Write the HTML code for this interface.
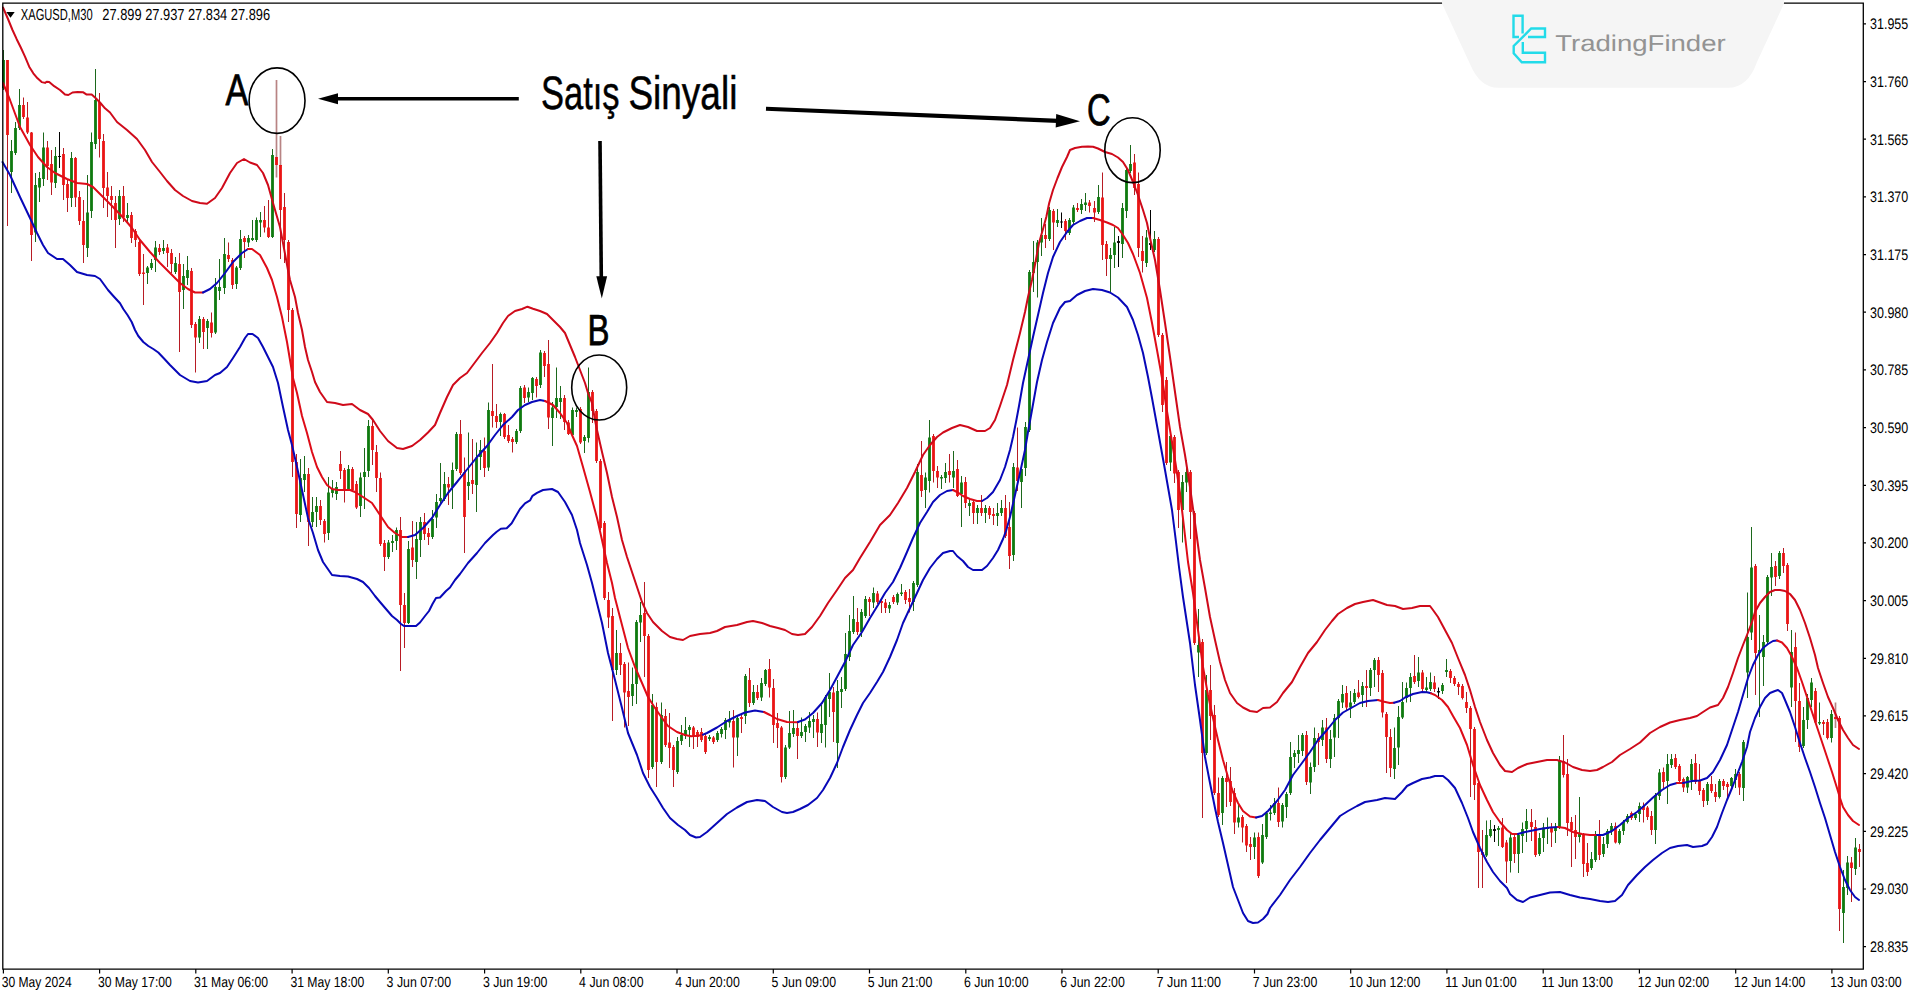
<!DOCTYPE html>
<html lang="tr"><head><meta charset="utf-8"><title>XAGUSD M30 - Satış Sinyali</title>
<style>html,body{margin:0;padding:0;background:#fff;overflow:hidden}svg{display:block}text{font-family:"Liberation Sans",sans-serif;text-rendering:geometricPrecision}.ax{font-size:15.3px;fill:#000}.w{stroke-width:1;fill:none}.cv{fill:none;stroke-width:2;stroke-linejoin:round;stroke-linecap:round}</style></head><body>
<svg width="1920" height="997" viewBox="0 0 1920 997">
<rect width="1920" height="997" fill="#fff"/>
<path class="w" stroke="#b81c24" d="M7.5,60V226M23.5,97.5V119M27.5,102V134M31.5,132V261M47.5,141V180M51.5,150V195M63.5,148V200M67.5,180V212M75.5,157V207M79.5,191V225M83.5,200V263M99.5,93V157.5M103.5,134V208M107.5,172V217M111.5,186V220M115.5,196V248M123.5,186V222M131.5,212V243M135.5,229V247M139.5,240V276M143.5,254V305M159.5,244V255M167.5,244V267M171.5,249V273M179.5,253V352M191.5,268V328M195.5,322V372.5M203.5,317V349M211.5,312.5V337.5M228.5,242.5V262M232.5,258V289M244.5,236V258M264.5,206V232.5M268.5,200V238M280.5,165V259M284.5,193V263M288.5,240V322M292.5,308V477M296.5,454V528M308.5,468V546M320.5,500V525M324.5,519V542.5M340.5,451V479M344.5,468V502.5M352.5,467V492M356.5,481V509M372.5,420V465M376.5,445V492M380.5,472.5V546M384.5,540V571M400.5,517V671M404.5,593V648M412.5,521V567M424.5,513V540M428.5,528V545M448.5,477V505M460.5,420V475M464.5,457.5V553M472.5,439V494M484.5,437.5V477M492.5,364V427.5M496.5,404V428M504.5,413V439M508.5,425V443M512.5,437V452.5M524.5,385V403M536.5,377V397.5M544.5,351V377M548.5,340V429M564.5,395V430M568.5,420V435M580.5,407V444M592.5,390V423M596.5,409V463M600.5,459V530M604.5,521V600M608.5,592V628M612.5,608V721M620.5,643V675M624.5,662V727.5M628.5,662.5V726M644.5,582V677M648.5,634V778M656.5,702.5V787M665.5,709V747M669.5,713V768M673.5,745V787M693.5,726V749M697.5,730V747M701.5,728V742M705.5,734V754M713.5,736V744M733.5,710V767.5M741.5,715V733M749.5,668V707M757.5,685V700M769.5,659V697.5M773.5,679V743M777.5,713V748M781.5,726V782.5M797.5,723V759M817.5,712.5V747M833.5,687V742M857.5,608V635M869.5,597V616M877.5,591V604M881.5,599V613M885.5,599V613M893.5,595V604M905.5,590V604M909.5,589V612.5M921.5,441V497M933.5,434V482.5M937.5,466V488M949.5,454V482.5M957.5,460V497M965.5,477V508M973.5,500V524M981.5,495V516M989.5,506V519M993.5,508V525M1005.5,495V538M1009.5,502V569M1017.5,427.5V491M1045.5,224V248M1053.5,209V250M1065.5,219V240M1077.5,203V212M1089.5,200V212.5M1094.5,201V222M1102.5,172.5V260M1106.5,241V276M1134.5,154V195M1138.5,172.5V257M1142.5,236V272.5M1158.5,237V337M1162.5,333V412M1166.5,377V465M1174.5,435V483M1178.5,470V528M1190.5,470V539M1194.5,511V645M1202.5,639V818M1210.5,665V740M1214.5,705V795M1218.5,777.5V817M1226.5,762V807M1230.5,767V806M1234.5,788V834M1242.5,815V842.5M1246.5,824V852M1250.5,837V860M1258.5,832.5V878M1278.5,787.5V827M1306.5,731V785M1318.5,733V765M1326.5,718V763M1346.5,686V711M1358.5,680V698.5M1366.5,670V707M1378.5,657V692M1382.5,670V717.5M1386.5,712V773M1390.5,729V777M1414.5,655V684M1422.5,670V692M1434.5,676V692M1450.5,669V683M1454.5,676V686M1458.5,682V695M1462.5,684V699.5M1466.5,692V713M1470.5,706V797M1474.5,727V800M1478.5,781V888M1482.5,830V888M1502.5,818V848M1506.5,840V883M1514.5,835V863M1531.5,809V841M1535.5,820V857M1551.5,823V847M1563.5,735V777.5M1567.5,759V836M1571.5,817V867M1575.5,815V859M1583.5,833V877M1587.5,843V876M1599.5,820V860M1615.5,822.5V843.5M1631.5,811.5V820M1643.5,802.5V822.5M1647.5,806V820M1651.5,811V835M1663.5,767.5V788M1675.5,754V769M1679.5,764V782.5M1683.5,777.5V792M1695.5,754V784M1699.5,764V795M1703.5,788V807M1711.5,776V793M1715.5,784V802M1723.5,779V790M1727.5,782V797M1739.5,772V795M1755.5,564V695M1775.5,561V586M1783.5,548V573M1787.5,563V631M1795.5,632.5V742M1799.5,683V752M1815.5,688V723.5M1823.5,720V735M1827.5,719V739.5M1839.5,716V931M1851.5,857V902M1859.5,844V867"/>
<path fill="#ea1414" d="M6.1,60h2.8v75h-2.8zM22.1,105h2.8v12h-2.8zM26.1,117.5h2.8v15h-2.8zM30.1,132.5h2.8v102.5h-2.8zM46.1,147.5h2.8v18.5h-2.8zM50.1,164h2.8v18.5h-2.8zM62.1,154h2.8v31h-2.8zM66.1,184h2.8v14h-2.8zM74.1,158h2.8v39.5h-2.8zM78.1,197h2.8v24h-2.8zM82.1,221h2.8v24h-2.8zM98.1,102h2.8v37h-2.8zM102.1,141h2.8v47h-2.8zM106.1,187.5h2.8v8.5h-2.8zM110.1,196h2.8v4h-2.8zM114.1,203h2.8v17h-2.8zM122.1,196h2.8v21.5h-2.8zM130.1,215h2.8v23h-2.8zM134.1,231h2.8v9h-2.8zM138.1,242h2.8v32h-2.8zM142.1,272.5h2.8v1.5h-2.8zM158.1,248h2.8v4h-2.8zM166.1,247.5h2.8v5.5h-2.8zM170.1,253h2.8v11h-2.8zM178.1,264h2.8v28h-2.8zM190.1,271h2.8v54h-2.8zM194.1,324h2.8v13.5h-2.8zM202.1,319h2.8v13h-2.8zM210.1,322.5h2.8v10.5h-2.8zM227.1,255h2.8v4h-2.8zM231.1,260h2.8v25h-2.8zM243.1,238h2.8v4h-2.8zM263.1,220h2.8v7.5h-2.8zM267.1,227.5h2.8v9.5h-2.8zM279.1,165h2.8v45h-2.8zM283.1,207h2.8v33h-2.8zM287.1,242h2.8v68h-2.8zM291.1,310h2.8v152h-2.8zM295.1,462h2.8v52h-2.8zM307.1,474h2.8v48h-2.8zM319.1,506h2.8v14h-2.8zM323.1,521h2.8v13h-2.8zM339.1,464h2.8v7h-2.8zM343.1,470h2.8v20h-2.8zM351.1,469h2.8v21h-2.8zM355.1,484h2.8v23.5h-2.8zM371.1,426h2.8v24h-2.8zM375.1,452h2.8v26h-2.8zM379.1,478h2.8v66h-2.8zM383.1,543h2.8v14h-2.8zM399.1,530h2.8v75h-2.8zM403.1,605h2.8v18h-2.8zM411.1,547.5h2.8v12.5h-2.8zM423.1,522h2.8v12h-2.8zM427.1,533h2.8v4h-2.8zM447.1,484h2.8v3.5h-2.8zM459.1,434h2.8v39h-2.8zM463.1,472h2.8v45h-2.8zM471.1,480h2.8v4h-2.8zM483.1,451h2.8v17h-2.8zM491.1,411h2.8v5h-2.8zM495.1,416h2.8v6h-2.8zM503.1,414h2.8v23h-2.8zM507.1,435h2.8v6h-2.8zM511.1,439h2.8v3h-2.8zM523.1,387.5h2.8v10.5h-2.8zM535.1,379h2.8v7h-2.8zM543.1,353h2.8v13h-2.8zM547.1,364h2.8v53.5h-2.8zM563.1,398h2.8v24h-2.8zM567.1,422.5h2.8v11.5h-2.8zM579.1,409h2.8v33.5h-2.8zM591.1,392h2.8v19h-2.8zM595.1,411h2.8v50h-2.8zM599.1,461h2.8v67h-2.8zM603.1,523h2.8v75h-2.8zM607.1,600h2.8v17.5h-2.8zM611.1,616h2.8v54h-2.8zM619.1,653h2.8v12h-2.8zM623.1,664h2.8v28.5h-2.8zM627.1,691h2.8v6h-2.8zM643.1,613h2.8v23h-2.8zM647.1,636h2.8v134h-2.8zM655.1,707h2.8v55h-2.8zM664.1,716h2.8v29h-2.8zM668.1,742.5h2.8v5.5h-2.8zM672.1,747h2.8v23h-2.8zM692.1,727.5h2.8v9.5h-2.8zM696.1,732h2.8v5h-2.8zM700.1,732h2.8v8h-2.8zM704.1,736h2.8v16h-2.8zM712.1,737.5h2.8v4.5h-2.8zM732.1,721h2.8v16.5h-2.8zM740.1,717h2.8v2h-2.8zM748.1,680h2.8v23h-2.8zM756.1,692h2.8v6h-2.8zM768.1,669h2.8v18.5h-2.8zM772.1,688h2.8v37h-2.8zM776.1,723h2.8v5h-2.8zM780.1,727.5h2.8v49.5h-2.8zM796.1,728h2.8v8h-2.8zM816.1,719h2.8v13.5h-2.8zM832.1,692.5h2.8v19.5h-2.8zM856.1,622h2.8v10h-2.8zM868.1,599h2.8v3h-2.8zM876.1,593.5h2.8v8.5h-2.8zM880.1,601h2.8v2h-2.8zM884.1,602.5h2.8v5.5h-2.8zM892.1,597h2.8v5h-2.8zM904.1,592h2.8v8h-2.8zM908.1,598h2.8v4h-2.8zM920.1,475h2.8v16h-2.8zM932.1,436h2.8v35h-2.8zM936.1,471h2.8v6.5h-2.8zM948.1,471h2.8v4h-2.8zM956.1,469h2.8v27h-2.8zM964.1,482h2.8v21h-2.8zM972.1,502h2.8v11h-2.8zM980.1,508h2.8v5h-2.8zM988.1,508h2.8v7h-2.8zM992.1,514h2.8v2h-2.8zM1004.1,508h2.8v28h-2.8zM1008.1,527h2.8v29h-2.8zM1016.1,467.5h2.8v13.5h-2.8zM1044.1,235h2.8v4h-2.8zM1052.1,211h2.8v11.5h-2.8zM1064.1,221h2.8v10h-2.8zM1076.1,208h2.8v2h-2.8zM1088.1,202.5h2.8v3.5h-2.8zM1093.1,208h2.8v4.5h-2.8zM1101.1,197.5h2.8v47.5h-2.8zM1105.1,244h2.8v15h-2.8zM1133.1,162.5h2.8v25.5h-2.8zM1137.1,184h2.8v64h-2.8zM1141.1,251h2.8v10h-2.8zM1157.1,239h2.8v96h-2.8zM1161.1,335h2.8v70h-2.8zM1165.1,380h2.8v83h-2.8zM1173.1,437h2.8v36.5h-2.8zM1177.1,472h2.8v38h-2.8zM1189.1,472h2.8v40h-2.8zM1193.1,513h2.8v130h-2.8zM1201.1,642h2.8v111h-2.8zM1209.1,690h2.8v26h-2.8zM1213.1,715h2.8v78h-2.8zM1217.1,793h2.8v22h-2.8zM1225.1,778h2.8v4h-2.8zM1229.1,781h2.8v21h-2.8zM1233.1,793h2.8v29.5h-2.8zM1241.1,817h2.8v10.5h-2.8zM1245.1,826h2.8v19.5h-2.8zM1249.1,844h2.8v3h-2.8zM1257.1,837h2.8v39h-2.8zM1277.1,803h2.8v19h-2.8zM1305.1,735h2.8v47h-2.8zM1317.1,738h2.8v4h-2.8zM1325.1,727.5h2.8v31.5h-2.8zM1345.1,693h2.8v14.5h-2.8zM1357.1,692.5h2.8v4.5h-2.8zM1365.1,686h2.8v2h-2.8zM1377.1,660h2.8v15h-2.8zM1381.1,673h2.8v39.5h-2.8zM1385.1,714h2.8v23h-2.8zM1389.1,737h2.8v31h-2.8zM1413.1,676h2.8v6h-2.8zM1421.1,672.5h2.8v16.5h-2.8zM1433.1,682.5h2.8v6.5h-2.8zM1449.1,671h2.8v7h-2.8zM1453.1,678h2.8v6h-2.8zM1457.1,684h2.8v3h-2.8zM1461.1,686h2.8v12h-2.8zM1465.1,702h2.8v6h-2.8zM1469.1,708h2.8v21h-2.8zM1473.1,729h2.8v56h-2.8zM1477.1,783h2.8v69h-2.8zM1481.1,852h2.8v3h-2.8zM1501.1,827.5h2.8v19.5h-2.8zM1505.1,842.5h2.8v19h-2.8zM1513.1,837h2.8v17h-2.8zM1530.1,822h2.8v5h-2.8zM1534.1,827h2.8v28h-2.8zM1550.1,827h2.8v5.5h-2.8zM1562.1,761h2.8v14h-2.8zM1566.1,774h2.8v49h-2.8zM1570.1,822h2.8v8h-2.8zM1574.1,830h2.8v7h-2.8zM1582.1,835h2.8v29h-2.8zM1586.1,863h2.8v9h-2.8zM1598.1,835h2.8v20h-2.8zM1614.1,826h2.8v16.5h-2.8zM1630.1,813h2.8v5h-2.8zM1642.1,806h2.8v4h-2.8zM1646.1,807.5h2.8v9.5h-2.8zM1650.1,816h2.8v14h-2.8zM1662.1,772h2.8v10h-2.8zM1674.1,758h2.8v9h-2.8zM1678.1,766h2.8v15h-2.8zM1682.1,779h2.8v8.5h-2.8zM1694.1,763h2.8v19h-2.8zM1698.1,780h2.8v11h-2.8zM1702.1,790h2.8v11h-2.8zM1710.1,784h2.8v7h-2.8zM1714.1,792h2.8v5h-2.8zM1722.1,781h2.8v5h-2.8zM1726.1,784h2.8v3h-2.8zM1738.1,774h2.8v13.5h-2.8zM1754.1,566h2.8v87h-2.8zM1774.1,566h2.8v11h-2.8zM1782.1,553h2.8v13h-2.8zM1786.1,565h2.8v59h-2.8zM1794.1,647h2.8v54h-2.8zM1798.1,701h2.8v46h-2.8zM1814.1,691h2.8v31.5h-2.8zM1822.1,722h2.8v2h-2.8zM1826.1,722h2.8v16h-2.8zM1838.1,718h2.8v191h-2.8zM1850.1,862.5h2.8v5.5h-2.8zM1858.1,849h2.8v3h-2.8z"/>
<path class="w" stroke="#1c681c" d="M3.5,50V90M11.5,140V193M15.5,122V155M19.5,89V130M35.5,173V242M39.5,172V202M43.5,132.5V186M55.5,147V188M71.5,152V207M87.5,175V257M91.5,132.5V218M95.5,69V149M119.5,190V225M127.5,203V222M147.5,266V284M151.5,259V270M155.5,241V272M163.5,240V254M175.5,257V274M183.5,264V309M187.5,256V285M199.5,316V343M207.5,319V349M215.5,278V334M219.5,259V300M224.5,238V294M236.5,266V289M240.5,230V270M248.5,235V247M252.5,220V241M256.5,217.5V242M260.5,212V237M272.5,149V238M300.5,459V522M304.5,456V492M312.5,497V527M316.5,497V527M328.5,477V540M332.5,480V497.5M336.5,482V500M348.5,465V491M360.5,472.5V517M364.5,448V509M368.5,420V477M388.5,540V559M392.5,535V552M396.5,527.5V550M408.5,541V624M416.5,522V579M420.5,517V557M432.5,510V539M436.5,494V528M440.5,463V503M444.5,472V501M452.5,462.5V509M456.5,432V471M468.5,432.5V500M476.5,442.5V512M480.5,440V470M488.5,402.5V471M500.5,412.5V436M516.5,429V444M520.5,386V433M528.5,387.5V402M532.5,377V400M540.5,350V388M552.5,402V446M556.5,367.5V418M560.5,386V419M572.5,407.5V437M576.5,407.5V417M584.5,435V453M588.5,367.5V442.5M616.5,630V675M632.5,667.5V706M636.5,620V704M640.5,602V642M652.5,694V769M661.5,702.5V764M677.5,737V774M681.5,725V745M685.5,717V739M689.5,725V747M709.5,735V741M717.5,731V742M721.5,727V737.5M725.5,718V739M729.5,711V727.5M737.5,716V756M745.5,674V724M753.5,685V705M761.5,678V701M765.5,669V686M785.5,745V779M789.5,711V749M793.5,710V737M801.5,717.5V738M805.5,724V742M809.5,712V733M813.5,715V738M821.5,705V743M825.5,695V747.5M829.5,673V717M837.5,680V768M841.5,677V708M845.5,633V691M849.5,615V661M853.5,596V634M861.5,609V637M865.5,596V618M873.5,587.5V608M889.5,602V613M897.5,592.5V605M901.5,584V596M913.5,581V611M917.5,464V587M925.5,472.5V508M929.5,420V492.5M941.5,475V489M945.5,463V483M953.5,451V488M961.5,476V527M969.5,499V516M977.5,505V524M985.5,505V523M997.5,503V526M1001.5,500V516M1013.5,463V561M1021.5,467V508M1025.5,422V476M1029.5,270V432M1033.5,241V292M1037.5,240V297.5M1041.5,218V256M1049.5,207V241M1057.5,209V227M1069.5,218V235M1073.5,205V224M1081.5,199V214M1085.5,193V211M1098.5,185V214M1110.5,248V292M1114.5,227V268M1122.5,203V258M1126.5,168V218M1130.5,145V173M1146.5,230V267M1154.5,231V252M1170.5,430V471M1182.5,475V542.5M1186.5,460V492M1198.5,609V677M1206.5,675V755M1222.5,776V825M1238.5,803V827.5M1254.5,832.5V859M1262.5,824V864M1266.5,811V839M1270.5,805V820.5M1274.5,798V815M1282.5,803V827.5M1286.5,792V818M1290.5,742V795M1294.5,750V768M1298.5,735V763M1302.5,733V756M1310.5,762.5V794M1314.5,727.5V772M1322.5,720V746M1330.5,730V768M1334.5,714V757M1338.5,699V738M1342.5,685V708M1350.5,691V718M1354.5,689V704M1362.5,682V707M1370.5,668V696M1374.5,658V687M1394.5,727.5V779M1398.5,706V765M1402.5,682V719M1406.5,682.5V702.5M1410.5,673V702M1418.5,657V687M1426.5,677V692.5M1430.5,672.5V691M1442.5,683V694M1446.5,659V677M1486.5,820.5V857M1490.5,820V837.5M1498.5,826V846M1510.5,832.5V872.5M1518.5,833V873M1522.5,822.5V853M1526.5,809V842M1539.5,833V856M1543.5,823V852M1547.5,817.5V844M1555.5,823V843M1559.5,756V829M1579.5,797V842.5M1591.5,852V870M1595.5,831V862M1603.5,837V857M1607.5,829V848M1611.5,823V835M1619.5,829V844.5M1623.5,820V835M1627.5,814V823.5M1635.5,812V820M1639.5,802.5V822M1655.5,793V844M1659.5,769V800M1667.5,754V804M1671.5,754V768M1687.5,776V793M1691.5,759V790M1707.5,782V805M1719.5,779V798.5M1731.5,777V787.5M1735.5,769V788M1743.5,740V801M1747.5,592.5V698M1751.5,527V640M1759.5,615V717M1763.5,635V686M1767.5,575V644M1771.5,553V596M1779.5,551V579M1791.5,630V707M1803.5,707V748M1807.5,694V729M1811.5,678V707M1819.5,702.5V725M1831.5,710V742.5M1843.5,870V943M1847.5,856V895M1855.5,838V875"/>
<path fill="#0f7a0f" d="M2.1,60h2.8v28h-2.8zM10.1,151h2.8v21h-2.8zM14.1,128h2.8v25h-2.8zM18.1,105h2.8v23h-2.8zM34.1,185h2.8v47.5h-2.8zM38.1,178h2.8v9.5h-2.8zM42.1,147.5h2.8v31.5h-2.8zM54.1,156h2.8v27h-2.8zM70.1,158h2.8v40h-2.8zM86.1,212.5h2.8v35.5h-2.8zM90.1,142h2.8v69h-2.8zM94.1,100h2.8v44h-2.8zM118.1,196h2.8v23h-2.8zM126.1,215h2.8v3h-2.8zM146.1,267.5h2.8v5.5h-2.8zM150.1,263h2.8v5h-2.8zM154.1,247.5h2.8v12.5h-2.8zM162.1,248h2.8v3h-2.8zM174.1,263h2.8v9h-2.8zM182.1,276h2.8v14h-2.8zM186.1,270h2.8v8h-2.8zM198.1,319h2.8v18.5h-2.8zM206.1,321h2.8v7h-2.8zM214.1,287h2.8v45.5h-2.8zM218.1,287h2.8v4h-2.8zM223.1,254h2.8v34h-2.8zM235.1,267.5h2.8v16.5h-2.8zM239.1,239h2.8v29h-2.8zM247.1,238h2.8v4.5h-2.8zM251.1,238h2.8v2h-2.8zM255.1,220h2.8v20h-2.8zM259.1,220h2.8v2.5h-2.8zM271.1,155h2.8v82h-2.8zM299.1,478h2.8v37h-2.8zM303.1,474h2.8v6h-2.8zM311.1,512h2.8v10h-2.8zM315.1,506h2.8v6h-2.8zM327.1,492.5h2.8v40.5h-2.8zM331.1,489h2.8v4h-2.8zM335.1,487h2.8v7h-2.8zM347.1,469h2.8v20h-2.8zM359.1,477.5h2.8v28.5h-2.8zM363.1,472h2.8v5h-2.8zM367.1,426h2.8v45h-2.8zM387.1,542.5h2.8v14.5h-2.8zM391.1,541h2.8v2h-2.8zM395.1,530h2.8v11h-2.8zM407.1,549h2.8v74h-2.8zM415.1,539h2.8v23h-2.8zM419.1,522h2.8v18h-2.8zM431.1,519h2.8v18h-2.8zM435.1,502h2.8v15.5h-2.8zM439.1,498h2.8v3h-2.8zM443.1,484h2.8v15h-2.8zM451.1,470h2.8v17h-2.8zM455.1,434h2.8v35h-2.8zM467.1,482h2.8v4h-2.8zM475.1,457.5h2.8v27.5h-2.8zM479.1,450h2.8v7h-2.8zM487.1,410h2.8v57.5h-2.8zM499.1,414h2.8v8h-2.8zM515.1,431h2.8v11h-2.8zM519.1,388h2.8v43h-2.8zM527.1,392h2.8v5.5h-2.8zM531.1,378h2.8v15h-2.8zM539.1,352.5h2.8v32.5h-2.8zM551.1,407.5h2.8v10.5h-2.8zM555.1,398h2.8v9h-2.8zM559.1,398h2.8v4h-2.8zM571.1,410h2.8v25h-2.8zM575.1,410h2.8v2h-2.8zM583.1,437h2.8v4h-2.8zM587.1,392h2.8v46h-2.8zM615.1,653h2.8v17h-2.8zM631.1,684h2.8v12h-2.8zM635.1,622h2.8v62h-2.8zM639.1,615h2.8v7.5h-2.8zM651.1,705h2.8v62h-2.8zM660.1,715h2.8v47h-2.8zM676.1,741h2.8v31h-2.8zM680.1,735h2.8v6h-2.8zM684.1,730h2.8v6h-2.8zM688.1,727h2.8v3h-2.8zM708.1,737h2.8v2h-2.8zM716.1,733h2.8v7h-2.8zM720.1,729h2.8v5h-2.8zM724.1,720h2.8v10h-2.8zM728.1,720h2.8v2.5h-2.8zM736.1,718h2.8v19.5h-2.8zM744.1,676h2.8v40h-2.8zM752.1,692h2.8v11h-2.8zM760.1,683h2.8v14.5h-2.8zM764.1,670h2.8v14h-2.8zM784.1,747.5h2.8v29.5h-2.8zM788.1,733h2.8v14.5h-2.8zM792.1,728h2.8v6h-2.8zM800.1,732h2.8v4h-2.8zM804.1,726h2.8v6h-2.8zM808.1,721h2.8v6.5h-2.8zM812.1,719h2.8v3h-2.8zM820.1,724h2.8v9h-2.8zM824.1,697h2.8v28h-2.8zM828.1,692h2.8v7h-2.8zM836.1,691h2.8v52h-2.8zM840.1,689h2.8v3h-2.8zM844.1,654h2.8v35h-2.8zM848.1,631h2.8v26h-2.8zM852.1,619h2.8v13h-2.8zM860.1,612h2.8v20h-2.8zM864.1,599h2.8v17h-2.8zM872.1,593h2.8v9.5h-2.8zM888.1,605h2.8v3.5h-2.8zM896.1,594h2.8v8.5h-2.8zM900.1,592.5h2.8v1.5h-2.8zM912.1,583h2.8v19h-2.8zM916.1,472h2.8v113h-2.8zM924.1,477.5h2.8v12.5h-2.8zM928.1,437.5h2.8v43.5h-2.8zM940.1,477h2.8v1.5h-2.8zM944.1,472h2.8v6h-2.8zM952.1,471h2.8v6.5h-2.8zM960.1,482.5h2.8v11.5h-2.8zM968.1,503h2.8v3h-2.8zM976.1,508h2.8v5h-2.8zM984.1,508h2.8v5h-2.8zM996.1,513h2.8v3h-2.8zM1000.1,508h2.8v5h-2.8zM1012.1,467h2.8v88h-2.8zM1020.1,469h2.8v13h-2.8zM1024.1,427h2.8v41h-2.8zM1028.1,272h2.8v158h-2.8zM1032.1,262h2.8v11h-2.8zM1036.1,242.5h2.8v19.5h-2.8zM1040.1,235h2.8v7.5h-2.8zM1048.1,210h2.8v29h-2.8zM1056.1,220h2.8v3h-2.8zM1068.1,220h2.8v13h-2.8zM1072.1,207.5h2.8v14.5h-2.8zM1080.1,204h2.8v6h-2.8zM1084.1,202.5h2.8v2.5h-2.8zM1097.1,197h2.8v15h-2.8zM1109.1,255h2.8v4h-2.8zM1113.1,242.5h2.8v12.5h-2.8zM1121.1,208h2.8v36h-2.8zM1125.1,170h2.8v41h-2.8zM1129.1,164h2.8v7h-2.8zM1145.1,237.5h2.8v25.5h-2.8zM1153.1,239h2.8v11h-2.8zM1169.1,436h2.8v26.5h-2.8zM1181.1,482h2.8v28h-2.8zM1185.1,472h2.8v10.5h-2.8zM1197.1,645h2.8v7.5h-2.8zM1205.1,690h2.8v63h-2.8zM1221.1,778h2.8v35h-2.8zM1237.1,817.5h2.8v5h-2.8zM1253.1,837.5h2.8v9.5h-2.8zM1261.1,835h2.8v27.5h-2.8zM1265.1,813h2.8v24h-2.8zM1269.1,812.5h2.8v1.5h-2.8zM1273.1,803h2.8v10h-2.8zM1281.1,805h2.8v16.5h-2.8zM1285.1,794h2.8v13h-2.8zM1289.1,757h2.8v36h-2.8zM1293.1,753h2.8v4h-2.8zM1297.1,750h2.8v4h-2.8zM1301.1,735h2.8v16h-2.8zM1309.1,767h2.8v15.5h-2.8zM1313.1,738h2.8v29h-2.8zM1321.1,727.5h2.8v12.5h-2.8zM1329.1,739h2.8v20h-2.8zM1333.1,718h2.8v19.5h-2.8zM1337.1,701h2.8v17h-2.8zM1341.1,694h2.8v8.5h-2.8zM1349.1,702.5h2.8v5h-2.8zM1353.1,693h2.8v9h-2.8zM1361.1,686h2.8v9h-2.8zM1369.1,670h2.8v18h-2.8zM1373.1,660h2.8v10h-2.8zM1393.1,748h2.8v21h-2.8zM1397.1,717h2.8v30.5h-2.8zM1401.1,702h2.8v15.5h-2.8zM1405.1,688h2.8v10h-2.8zM1409.1,677h2.8v11h-2.8zM1417.1,672.5h2.8v8.5h-2.8zM1425.1,687.5h2.8v2.5h-2.8zM1429.1,682h2.8v7h-2.8zM1441.1,685h2.8v6h-2.8zM1445.1,670h2.8v2h-2.8zM1485.1,835h2.8v20.5h-2.8zM1489.1,829h2.8v7h-2.8zM1497.1,828h2.8v2h-2.8zM1509.1,837.5h2.8v23.5h-2.8zM1517.1,835h2.8v19h-2.8zM1521.1,829h2.8v7h-2.8zM1525.1,821h2.8v8h-2.8zM1538.1,838h2.8v16h-2.8zM1542.1,827.5h2.8v10.5h-2.8zM1546.1,827h2.8v2h-2.8zM1554.1,827h2.8v4h-2.8zM1558.1,761h2.8v66.5h-2.8zM1578.1,834h2.8v3h-2.8zM1590.1,859h2.8v9h-2.8zM1594.1,836h2.8v24h-2.8zM1602.1,844h2.8v10h-2.8zM1606.1,831h2.8v13h-2.8zM1610.1,826h2.8v5h-2.8zM1618.1,831h2.8v12h-2.8zM1622.1,822h2.8v9h-2.8zM1626.1,816h2.8v6h-2.8zM1634.1,814h2.8v4h-2.8zM1638.1,806h2.8v8h-2.8zM1654.1,795h2.8v35h-2.8zM1658.1,772.5h2.8v23.5h-2.8zM1666.1,764h2.8v17h-2.8zM1670.1,759h2.8v6h-2.8zM1686.1,777h2.8v10.5h-2.8zM1690.1,764h2.8v16h-2.8zM1706.1,784h2.8v17h-2.8zM1718.1,781h2.8v16h-2.8zM1730.1,778h2.8v8h-2.8zM1734.1,774h2.8v6h-2.8zM1742.1,742h2.8v46h-2.8zM1746.1,637h2.8v35.5h-2.8zM1750.1,567.5h2.8v65h-2.8zM1758.1,650h2.8v3h-2.8zM1762.1,642h2.8v15h-2.8zM1766.1,577h2.8v65h-2.8zM1770.1,567h2.8v10.5h-2.8zM1778.1,553h2.8v23h-2.8zM1790.1,652h2.8v35.5h-2.8zM1802.1,720h2.8v26h-2.8zM1806.1,698h2.8v22h-2.8zM1810.1,682.5h2.8v17.5h-2.8zM1818.1,722h2.8v1.5h-2.8zM1830.1,714h2.8v24h-2.8zM1842.1,887h2.8v26h-2.8zM1846.1,862.5h2.8v25.5h-2.8zM1854.1,847.5h2.8v21.5h-2.8z"/>
<path class="w" stroke="#000" d="M59.5,132V168M1061.5,212.5V228M1118.5,236V267M1150.5,210V250M1438.5,687.5V699M1494.5,825V842"/>
<path fill="#000" d="M58.1,156h2.8v1h-2.8zM1060.1,221.5h2.8v1h-2.8zM1117.1,241h2.8v2h-2.8zM1149.1,243h2.8v2h-2.8zM1437.1,691h2.8v1.5h-2.8zM1493.1,829h2.8v2h-2.8z"/>
<path class="w" style="stroke-width:1.7" stroke="#b88484" d="M276.5,80V177.5M280.5,136V165M1835.5,702.5V728"/>
<path fill="#ea1414" d="M275.1,157h2.8v8h-2.8zM279.1,165h2.8v1h-2.8zM1834.1,717h2.8v2h-2.8z"/>
<path class="cv" stroke="#0808b8" d="M2.5,162 L10,175 L20,197 L30,218 L37,233 L43,245 L48,253 L57,259 L63,259 L70,265 L77,272 L87,275 L95,276 L100,279 L108,290 L113.3,296 L120,303.3 L123.3,309 L127.5,315 L131.7,322 L135,330 L138.3,336 L143.3,342 L148.3,346 L153.3,349 L158.3,352.5 L164,358.5 L170,365 L180,375 L190,381 L198,382.5 L207,381 L215,375 L220,373 L227,367 L233,358 L240,347 L245,338 L248,334 L252.5,334 L258,338 L263,347 L268,357 L273,367 L278,383 L283,407 L288,430 L292,445 L297,467 L302,490 L308,518 L313,533 L318,550 L323,562 L332,575 L340,576 L348,576.5 L357,579 L363,582 L369,588 L375,596 L380,602 L386,609 L392,616 L397,620 L401,624 L404,626 L416,626 L420,622.5 L425,616 L429,611 L432.5,604 L436,598 L440,597.5 L446,591 L450,587.5 L455,580 L460,574 L468,563 L477,553 L485,543 L493,535 L496.7,531.7 L500.8,528.8 L506.7,528.3 L511.7,523.3 L515,517.5 L520,509 L525,503.3 L530,500.4 L532.5,495.8 L537,492.8 L543,490 L552,489 L558,492 L565,502 L572,515 L577,530 L580,543 L587,565 L592,583 L595,595 L602,623 L608,653 L615,680 L622,708 L628,733 L637,755 L643,773 L650,787 L657,798 L663,808 L670,818 L678,825 L685,830 L690,835 L696,837.5 L700,837 L707,832 L717,823 L727,814 L737,807.5 L747,802 L757,800 L765,801 L773,807 L782,812 L787,813 L793,812 L800,809 L808,805 L817,798 L823,790 L830,778 L837,763 L843,747 L850,730 L857,715 L863,703 L870,693 L877,682 L883,672 L890,657 L897,640 L903,623 L910,608 L917,593 L923,580 L930,568 L937,559 L943,553 L950,551 L953,551 L957,556 L963,561 L968,567 L973,570 L982,570 L987,566 L993,558 L998,550 L1003,539 L1006,531 L1010,517 L1015,495 L1020,473 L1025,450 L1028,432 L1032,410 L1037,382 L1042,360 L1047,342 L1053,323 L1060,308 L1065,302 L1070,301 L1077,295 L1085,291 L1093,289 L1102,290 L1110,292.5 L1118,297.5 L1127,307 L1133,320 L1138,335 L1143,353 L1148,377 L1152,398 L1158,431 L1165,470 L1172,510 L1176,542 L1179,567 L1183,597 L1190,643 L1195,685 L1200,720 L1205,757 L1210,783 L1215,808 L1218,822 L1223,843 L1228,865 L1233,887 L1238,900 L1243,913 L1248,921 L1253,923 L1258,922.5 L1263,919 L1267.5,914 L1270,908 L1280,895 L1290,880 L1300,867 L1310,853 L1320,840 L1330,828 L1340,816 L1348,811 L1357,806 L1365,802 L1377,800 L1385,798 L1395,799 L1402,792 L1407,786 L1413,783 L1422,779 L1430,777.5 L1435,776 L1443,776 L1448,780 L1455,788 L1462,803 L1468,818 L1473,832 L1480,848 L1487,862 L1493,872 L1500,881 L1507,888 L1510,894 L1517,900 L1523,902 L1530,897.5 L1540,895 L1550,892.5 L1560,892 L1570,895 L1580,897.5 L1590,899 L1600,901 L1608,902 L1615,901 L1622,895 L1628,885 L1637,875 L1645,867 L1653,860 L1662,853 L1670,848 L1678,846 L1687,845 L1693,847 L1702,846 L1707,844 L1712,837 L1717,827 L1722,813 L1727,800 L1732,788 L1737,775 L1742,762 L1747,747 L1750,732 L1755,718 L1760,707 L1765,698 L1770,693 L1775,691 L1778,690 L1782,693 L1785,700 L1790,712 L1795,727 L1800,743 L1805,758 L1810,772 L1815,787 L1820,803 L1825,818 L1830,835 L1835,852 L1840,867 L1845,880 L1850,890 L1855,897 L1859,900"/>
<path class="cv" stroke="#de0c18" d="M3,83 L10,100 L20,127 L30,145 L38,157 L47,167 L55,173 L67,179 L77,183 L87,184 L93,187 L103,197 L113,207 L123,217.5 L132,228 L140,240 L150,252 L160,263 L170,273 L180,283 L188,289 L195,292.5 L203,292.5"/>
<path class="cv" stroke="#0808b8" d="M203,292.5 L210,289 L217,283 L225,273 L233,262 L242,253 L248,249"/>
<path class="cv" stroke="#de0c18" d="M248,249 L252,249 L260,255 L267,268 L272,280 L277,297 L282,317 L287,342 L290,360 L293,378 L297,393 L302,416 L307,433 L312,452 L317,467 L322,477 L327,485 L332,489 L338,490 L350,490 L355,492 L363,497 L372,503 L380,515 L388,527 L395,533 L402,537 L408,537"/>
<path class="cv" stroke="#0808b8" d="M408,537 L415,535 L423,528 L432,518 L440,505 L448,493 L457,482 L465,472 L477,457 L487,446 L495,435 L503,425 L512,417 L518,410 L525,405 L532,402 L540,400 L545,401"/>
<path class="cv" stroke="#de0c18" d="M545,401 L553,405 L560,413 L567,423 L572,435 L577,446 L583,467 L590,492 L597,518 L602,540 L607,563 L612,583 L615,598 L622,625 L628,648 L635,667 L642,683 L648,697 L655,708 L662,718 L668,726 L677,732 L685,735 L691,736.2 L698,735.8 L703,734.7"/>
<path class="cv" stroke="#0808b8" d="M703,734.7 L707,733 L717,727.5 L727,721 L737,716 L745,712.5 L755,710.6 L764,712"/>
<path class="cv" stroke="#de0c18" d="M764,712 L770,715 L777,719 L787,722 L798,722.3"/>
<path class="cv" stroke="#0808b8" d="M798,722 L805,719.5 L813,713 L822,703 L830,690 L837,677 L845,662 L853,645 L862,632 L870,618 L878,605 L885,593 L893,582 L900,568 L907,552 L913,538 L920,523 L927,512 L933,502 L940,495 L947,491 L953,490"/>
<path class="cv" stroke="#de0c18" d="M953,490 L958,492.5 L963,496 L970,499 L977,501 L982,501"/>
<path class="cv" stroke="#0808b8" d="M982,501 L987,498 L993,492 L1000,480 L1005,467 L1010,450 L1013,437 L1016,422 L1019,406 L1023,383 L1028,360 L1033,337 L1038,315 L1043,293 L1048,273 L1053,257 L1060,242 L1067,232 L1073,225 L1080,221 L1087,218 L1093,218"/>
<path class="cv" stroke="#de0c18" d="M1093,218 L1100,220 L1107,222.5 L1113,225 L1118,228 L1123,235 L1128,243 L1133,254 L1140,273 L1147,298 L1152,323 L1157,350 L1162,378 L1166,405 L1170,430 L1175,460 L1180,493 L1184,527 L1188,562 L1193,593 L1198,630 L1203,667 L1208,695 L1213,718 L1218,740 L1223,760 L1228,777 L1233,792 L1238,803 L1243,811 L1250,816.5 L1256,817.5"/>
<path class="cv" stroke="#0808b8" d="M1256,817.5 L1262,816 L1268,811 L1277,801 L1285,790 L1293,775 L1302,763 L1310,752 L1318,740 L1327,730 L1335,720 L1343,712.5 L1352,707.5 L1360,703 L1368,701 L1378,700"/>
<path class="cv" stroke="#de0c18" d="M1378,700 L1383,701.5 L1390,703 L1394,702.8"/>
<path class="cv" stroke="#0808b8" d="M1394,702.8 L1400,701 L1405,697.5 L1413,694 L1422,692 L1427,692.3 L1431,693.3"/>
<path class="cv" stroke="#de0c18" d="M1431,693.3 L1435,695 L1442,700 L1448,707 L1453,716 L1460,728 L1467,745 L1473,765 L1480,785 L1487,800 L1493,812 L1500,822 L1507,830 L1512,834 L1518,834"/>
<path class="cv" stroke="#0808b8" d="M1518,834 L1523,832.5 L1530,831 L1540,829 L1550,827.5 L1558,827"/>
<path class="cv" stroke="#de0c18" d="M1558,827 L1565,828 L1573,832 L1582,834 L1590,835 L1597,835"/>
<path class="cv" stroke="#0808b8" d="M1597,835 L1603,835 L1612,831 L1620,825 L1628,818 L1637,812 L1645,805 L1653,797.5 L1662,790 L1670,785 L1677,783"/>
<path class="cv" stroke="#de0c18" d="M1677,783 L1683,783"/>
<path class="cv" stroke="#0808b8" d="M1683,783 L1692,781 L1700,780.5 L1707,778 L1713,772 L1720,760 L1727,745 L1733,727 L1738,712 L1743,695 L1748,678 L1753,665 L1758,655 L1763,648 L1768,644 L1773,641 L1777,640.5"/>
<path class="cv" stroke="#de0c18" d="M1777,640.5 L1782,642.5 L1787,648 L1792,657 L1797,668 L1802,682 L1807,697 L1812,712 L1817,727 L1822,742 L1827,757 L1832,772 L1837,788 L1840,798 L1843,807 L1848,815 L1853,821 L1859,825"/>
<path class="cv" stroke="#cf0a1a" d="M3,7.5 L8,19 L12.5,30 L16.7,39.2 L20.8,47.5 L25,56.7 L29.2,66.7 L33.3,73.3 L37.5,78.3 L41.7,82.1 L45,82.9 L46.7,81.7 L49.2,82 L54.2,86.2 L60,90 L65,94.6 L68.3,95 L72.5,92.5 L77.5,92 L83.3,92.3 L86.7,94.6 L91.7,94.6 L95.8,98.3 L100,102.5 L105,108.3 L110,112.5 L117,122 L127,130 L137,139 L145,150 L152,162 L160,172 L167,181 L175,190 L183,196 L192,201 L200,203 L207,203.7 L215,198 L222,188 L230,173 L237,163 L244,159 L250,162.5 L257,165 L263,173 L268,185 L273,203 L280,227 L283,243 L288,270 L290,280 L295,297 L298,313 L302,330 L305,347 L308,360 L312,372 L315,382 L320,392 L327,402 L335,403 L343,405 L352,404 L360,410 L368,414 L373,420 L380,431 L388,441 L397,448 L403,449 L412,446 L420,440 L428,432.5 L435,425 L440,413 L447,397 L453,385 L460,378 L467,373 L473,365 L482,353 L490,343 L497,333 L503,323 L508,316 L515,311 L522,309 L527.5,306.7 L533,308.7 L540,311 L547,314 L553,320 L560,327 L565,333 L570,345 L575,357 L580,370 L585,383 L588,393 L592,403 L595,420 L597,430 L599.5,441 L602,452 L607,473 L612,497 L617,517 L622,540 L627,557 L632,572 L637,587 L642,602 L647,613 L653,622 L662,631 L670,637 L677,639 L683,640 L690,636 L700,634 L710,633 L717,631 L725,627 L737,625 L747,622 L753,621 L762,623 L770,626 L778,628 L785,630 L792,634 L798,635 L805,634 L812,627 L820,616 L828,603 L837,590 L845,578 L853,570 L860,558 L870,542 L880,525 L890,515 L898,503 L907,488 L915,472 L923,455 L930,445 L937,437 L943,432.5 L952,428 L960,425 L968,427 L977,431 L985,431 L990,428 L995,420 L1000,406 L1007,385 L1013,360 L1020,333 L1025,312 L1028,297 L1032,280 L1035.5,262 L1039,243 L1043.3,228 L1046.3,217 L1049.2,203 L1053,190 L1057.5,178 L1062,167 L1067,157 L1070,150 L1075,148 L1082,146.7 L1088,146.5 L1093,146.7 L1098,148.5 L1105,152 L1112,154 L1118,157.5 L1123,162 L1128,170 L1133,182 L1138,195 L1143,210 L1147,223 L1150,238 L1155,260 L1160,290 L1165,323 L1170,357 L1175,392 L1180,427 L1185,455 L1190,487 L1195,523 L1200,560 L1205,588 L1210,617 L1215,640 L1220,662 L1225,680 L1230,693 L1237,703 L1243,707.5 L1250,711 L1257,712 L1263,708 L1270,707.5 L1277,702 L1283,693 L1292,682 L1300,667 L1308,653 L1317,642 L1325,630 L1332,621 L1338,614 L1347,608 L1355,604 L1363,602 L1373,600 L1380,602.5 L1387,605 L1395,606 L1403,609 L1412,608 L1420,606 L1430,606 L1433,610 L1438,617 L1445,630 L1452,643 L1458,658 L1465,675 L1470,690 L1475,707 L1480,722 L1487,740 L1493,753 L1500,765 L1505,771 L1512,772 L1518,768 L1527,764 L1537,762 L1547,760 L1557,760 L1565,762.5 L1573,767 L1582,770 L1590,771 L1597,770 L1603,767 L1612,762 L1620,755 L1630,749 L1640,742.5 L1650,733 L1660,727 L1670,722.5 L1680,720 L1690,718 L1697,716 L1703,712 L1710,707.5 L1718,705 L1723,698 L1728,687 L1733,673 L1738,658 L1743,645 L1747,635 L1752,622 L1755,612 L1760,603 L1765,597 L1770,592 L1775,590 L1780,590 L1785,591 L1790,594 L1795,600 L1800,610 L1805,623 L1810,638 L1815,655 L1818,668 L1823,683 L1828,697 L1833,708 L1838,720 L1843,730 L1848,738 L1853,745 L1859,749"/>
<path d="M2.8,969.2V3.2H1863.3V969.2Z" fill="none" stroke="#000" stroke-width="1.3"/>
<path d="M1863,23.9h3M1863,81.6h3M1863,139.2h3M1863,196.9h3M1863,254.6h3M1863,312.2h3M1863,369.9h3M1863,427.6h3M1863,485.3h3M1863,542.9h3M1863,600.6h3M1863,658.3h3M1863,715.9h3M1863,773.6h3M1863,831.3h3M1863,889h3M1863,946.6h3" stroke="#000" stroke-width="1.2" fill="none"/>
<text class="ax" x="1870" y="29.3" textLength="38.3" lengthAdjust="spacingAndGlyphs">31.955</text>
<text class="ax" x="1870" y="87" textLength="38.3" lengthAdjust="spacingAndGlyphs">31.760</text>
<text class="ax" x="1870" y="144.6" textLength="38.3" lengthAdjust="spacingAndGlyphs">31.565</text>
<text class="ax" x="1870" y="202.3" textLength="38.3" lengthAdjust="spacingAndGlyphs">31.370</text>
<text class="ax" x="1870" y="260" textLength="38.3" lengthAdjust="spacingAndGlyphs">31.175</text>
<text class="ax" x="1870" y="317.6" textLength="38.3" lengthAdjust="spacingAndGlyphs">30.980</text>
<text class="ax" x="1870" y="375.3" textLength="38.3" lengthAdjust="spacingAndGlyphs">30.785</text>
<text class="ax" x="1870" y="433" textLength="38.3" lengthAdjust="spacingAndGlyphs">30.590</text>
<text class="ax" x="1870" y="490.7" textLength="38.3" lengthAdjust="spacingAndGlyphs">30.395</text>
<text class="ax" x="1870" y="548.3" textLength="38.3" lengthAdjust="spacingAndGlyphs">30.200</text>
<text class="ax" x="1870" y="606" textLength="38.3" lengthAdjust="spacingAndGlyphs">30.005</text>
<text class="ax" x="1870" y="663.7" textLength="38.3" lengthAdjust="spacingAndGlyphs">29.810</text>
<text class="ax" x="1870" y="721.3" textLength="38.3" lengthAdjust="spacingAndGlyphs">29.615</text>
<text class="ax" x="1870" y="779" textLength="38.3" lengthAdjust="spacingAndGlyphs">29.420</text>
<text class="ax" x="1870" y="836.7" textLength="38.3" lengthAdjust="spacingAndGlyphs">29.225</text>
<text class="ax" x="1870" y="894.4" textLength="38.3" lengthAdjust="spacingAndGlyphs">29.030</text>
<text class="ax" x="1870" y="952" textLength="38.3" lengthAdjust="spacingAndGlyphs">28.835</text>
<path d="M3.4,969v4.6M99.6,969v4.6M195.8,969v4.6M292.1,969v4.6M388.3,969v4.6M484.6,969v4.6M580.8,969v4.6M677,969v4.6M773.3,969v4.6M869.5,969v4.6M965.8,969v4.6M1062,969v4.6M1158.2,969v4.6M1254.5,969v4.6M1350.7,969v4.6M1446.9,969v4.6M1543.2,969v4.6M1639.4,969v4.6M1735.7,969v4.6M1831.9,969v4.6" stroke="#000" stroke-width="1.2" fill="none"/>
<text class="ax" x="1.7" y="987.2" style="font-size:14.6px" textLength="70" lengthAdjust="spacingAndGlyphs">30 May 2024</text>
<text class="ax" x="97.9" y="987.2" style="font-size:14.6px" textLength="74" lengthAdjust="spacingAndGlyphs">30 May 17:00</text>
<text class="ax" x="194.1" y="987.2" style="font-size:14.6px" textLength="74" lengthAdjust="spacingAndGlyphs">31 May 06:00</text>
<text class="ax" x="290.4" y="987.2" style="font-size:14.6px" textLength="74" lengthAdjust="spacingAndGlyphs">31 May 18:00</text>
<text class="ax" x="386.6" y="987.2" style="font-size:14.6px" textLength="64.5" lengthAdjust="spacingAndGlyphs">3 Jun 07:00</text>
<text class="ax" x="482.9" y="987.2" style="font-size:14.6px" textLength="64.5" lengthAdjust="spacingAndGlyphs">3 Jun 19:00</text>
<text class="ax" x="579.1" y="987.2" style="font-size:14.6px" textLength="64.5" lengthAdjust="spacingAndGlyphs">4 Jun 08:00</text>
<text class="ax" x="675.3" y="987.2" style="font-size:14.6px" textLength="64.5" lengthAdjust="spacingAndGlyphs">4 Jun 20:00</text>
<text class="ax" x="771.6" y="987.2" style="font-size:14.6px" textLength="64.5" lengthAdjust="spacingAndGlyphs">5 Jun 09:00</text>
<text class="ax" x="867.8" y="987.2" style="font-size:14.6px" textLength="64.5" lengthAdjust="spacingAndGlyphs">5 Jun 21:00</text>
<text class="ax" x="964" y="987.2" style="font-size:14.6px" textLength="64.5" lengthAdjust="spacingAndGlyphs">6 Jun 10:00</text>
<text class="ax" x="1060.3" y="987.2" style="font-size:14.6px" textLength="64.5" lengthAdjust="spacingAndGlyphs">6 Jun 22:00</text>
<text class="ax" x="1156.5" y="987.2" style="font-size:14.6px" textLength="64.5" lengthAdjust="spacingAndGlyphs">7 Jun 11:00</text>
<text class="ax" x="1252.8" y="987.2" style="font-size:14.6px" textLength="64.5" lengthAdjust="spacingAndGlyphs">7 Jun 23:00</text>
<text class="ax" x="1349" y="987.2" style="font-size:14.6px" textLength="71.5" lengthAdjust="spacingAndGlyphs">10 Jun 12:00</text>
<text class="ax" x="1445.2" y="987.2" style="font-size:14.6px" textLength="71.5" lengthAdjust="spacingAndGlyphs">11 Jun 01:00</text>
<text class="ax" x="1541.5" y="987.2" style="font-size:14.6px" textLength="71.5" lengthAdjust="spacingAndGlyphs">11 Jun 13:00</text>
<text class="ax" x="1637.7" y="987.2" style="font-size:14.6px" textLength="71.5" lengthAdjust="spacingAndGlyphs">12 Jun 02:00</text>
<text class="ax" x="1734" y="987.2" style="font-size:14.6px" textLength="71.5" lengthAdjust="spacingAndGlyphs">12 Jun 14:00</text>
<text class="ax" x="1830.2" y="987.2" style="font-size:14.6px" textLength="71.5" lengthAdjust="spacingAndGlyphs">13 Jun 03:00</text>
<path d="M6.3,12h8.4l-4.2,5.7z" fill="#000"/>
<text class="ax" x="20.8" y="19.8" style="font-size:16px" textLength="71.8" lengthAdjust="spacingAndGlyphs">XAGUSD,M30</text>
<text class="ax" x="102.3" y="19.8" style="font-size:16px" textLength="167.8" lengthAdjust="spacingAndGlyphs">27.899 27.937 27.834 27.896</text>
<path d="M1442,0H1784V3.5L1757,62Q1748,87.8 1728,87.8H1498Q1480,87.8 1470,64L1442,3.5Z" fill="#f5f5f5"/>
<g fill="none" stroke="#22dbe9" stroke-width="2.4" stroke-linejoin="miter"><path d="M1519,37H1513.5V15.7H1522.6V33.5"/><path d="M1528,37H1545V28.5H1531.2L1513.7,46V53.4L1521.8,62.2H1545V52.7H1522.8V42"/></g>
<text x="1555.2" y="50.9" font-size="22.8" fill="#939393" textLength="170.5" lengthAdjust="spacingAndGlyphs" style="font-weight:400">TradingFinder</text>
<g fill="none" stroke="#000" stroke-width="1.6"><ellipse cx="277.05" cy="100.65" rx="27.95" ry="32.75"/><ellipse cx="599.2" cy="387.5" rx="27.5" ry="32.5"/><ellipse cx="1132.5" cy="150.2" rx="27.7" ry="32.4"/></g>
<g fill="#000" stroke="#000" stroke-width="0.8" font-size="44.1"><text x="225.6" y="104.8" textLength="22.8" lengthAdjust="spacingAndGlyphs">A</text><text x="587.6" y="344.8" font-size="43.5" textLength="22" lengthAdjust="spacingAndGlyphs">B</text><text x="1087" y="124.6" textLength="23.6" lengthAdjust="spacingAndGlyphs">C</text></g>
<g font-size="46.8" fill="#000" stroke="#000" stroke-width="0.5"><text x="541" y="109.3" textLength="78.6" lengthAdjust="spacingAndGlyphs">Satış</text><text x="628.4" y="109.3" textLength="109" lengthAdjust="spacingAndGlyphs">Sinyali</text></g>
<g stroke="#000" stroke-width="3.6" fill="none"><path d="M518.8,98.75H336"/><path d="M600,141L601.3,278"/><path stroke-width="4.2" d="M766,108.75L1058,120.8"/></g>
<g fill="#000"><path d="M318,98.75L338,93.3V104.2Z"/><path d="M601.8,298.6L596.3,276.3H607.1Z"/><path d="M1080,121.3L1056.2,113.9L1055.7,127.4Z"/></g>
</svg></body></html>
